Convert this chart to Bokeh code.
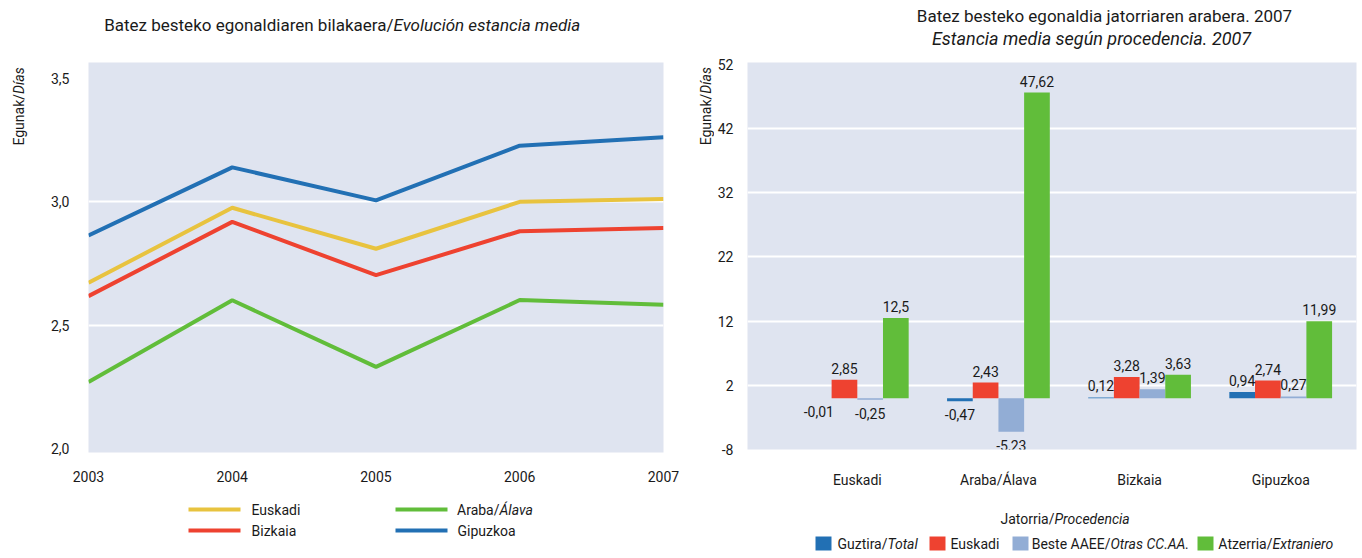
import math
from bokeh.plotting import figure
from bokeh.models import (Range1d, FixedTicker, Label, LabelSet, ColumnDataSource, BoxAnnotation)
from bokeh.layouts import row, column
from bokeh.embed import file_html
from bokeh.resources import INLINE
from bokeh.core.properties import value

# ---------------- data ----------------
years = [2003, 2004, 2005, 2006, 2007]
euskadi = [2.672, 2.976, 2.810, 3.000, 3.012]
bizkaia = [2.618, 2.919, 2.703, 2.881, 2.894]
araba = [2.270, 2.601, 2.331, 2.602, 2.583]
gipuzkoa = [2.864, 3.140, 3.006, 3.228, 3.262]

left_y_ticks = [2.0, 2.5, 3.0, 3.5]
left_y_labels = ["2,0", "2,5", "3,0", "3,5"]
year_labels = ["2003", "2004", "2005", "2006", "2007"]

categories = ["Euskadi", "Araba/Álava", "Bizkaia", "Gipuzkoa"]
guztira = [-0.01, -0.47, 0.12, 0.94]
euskadi_orig = [2.85, 2.43, 3.28, 2.74]
beste = [-0.25, -5.23, 1.39, 0.27]
atzerria = [12.5, 47.62, 3.63, 11.99]

right_y_ticks = [-8, 2, 12, 22, 32, 42, 52]
right_y_labels = ["-8", "2", "12", "22", "32", "42", "52"]

# ---------------- style ----------------
FONT = "Roboto"
BG = "#dfe4f0"
YELLOW = "#e8c33f"
RED = "#ee4230"
GREEN = "#61bd3a"
BLUE = "#2270b4"
LBLUE = "#92add5"
TXT = "#1a1a1a"


def blank(w, h):
    f = figure(width=w, height=h, x_range=Range1d(0, w), y_range=Range1d(0, h),
               output_backend="svg", toolbar_location=None, min_border=0,
               outline_line_color=None, x_axis_location=None, y_axis_location=None,
               background_fill_color="white", border_fill_color="white")
    f.xgrid.visible = False
    f.ygrid.visible = False
    return f


def lab(p, x, y, text, size="14px", style="normal", align="left", baseline="middle", angle=0):
    p.add_layout(Label(x=x, y=y, text=text, text_font=FONT, text_font_size=size,
                       text_font_style=style, text_align=align, text_baseline=baseline,
                       angle=angle, text_color=TXT))


def box(p, l, r, b, t, color):
    p.add_layout(BoxAnnotation(left=l, right=r, bottom=b, top=t,
                               fill_color=color, fill_alpha=1, line_color=None))


def style_axes(p):
    for ax in (p.xaxis[0], p.yaxis[0]):
        ax.axis_line_color = None
        ax.major_tick_line_color = None
        ax.minor_tick_line_color = None
        ax.major_label_text_font = FONT
        ax.major_label_text_font_size = "14px"
        ax.major_label_text_color = TXT
    p.xgrid.grid_line_color = None
    p.ygrid.grid_line_color = "white"
    p.ygrid.grid_line_width = 2


# ================= left block =================
t1 = blank(680, 56)
lab(t1, 393, 32, "Batez besteko egonaldiaren bilakaera/", size="17px", align="right")
lab(t1, 393, 32, "Evolución estancia media", size="17px", style="italic")

yt1 = blank(30, 434)
lab(yt1, 18, 399, "Egunak/", align="right", angle=math.pi / 2)
lab(yt1, 18, 399, "Días", style="italic", align="left", angle=math.pi / 2)

p1 = figure(width=650, height=434, output_backend="svg", toolbar_location=None,
            x_range=Range1d(2003, 2007), y_range=Range1d(1.984, 3.565),
            min_border_left=58, min_border_right=17, min_border_top=6, min_border_bottom=38,
            background_fill_color=BG, border_fill_color="white", outline_line_color=None)
style_axes(p1)
p1.xaxis.ticker = FixedTicker(ticks=years)
p1.xaxis.major_label_overrides = dict(zip(years, year_labels))
p1.xaxis.major_label_standoff = 12
p1.yaxis.ticker = FixedTicker(ticks=left_y_ticks)
p1.yaxis.major_label_overrides = dict(zip(left_y_ticks, left_y_labels))
p1.yaxis.major_label_standoff = 13
p1.ygrid.ticker = FixedTicker(ticks=[2.5, 3.0])

p1.line(years, araba, line_color=GREEN, line_width=4)
p1.line(years, bizkaia, line_color=RED, line_width=4)
p1.line(years, euskadi, line_color=YELLOW, line_width=4)
p1.line(years, gipuzkoa, line_color=BLUE, line_width=4)

l1 = blank(680, 66)
box(l1, 188, 240, 45, 49, YELLOW)
box(l1, 188, 240, 24, 28, RED)
box(l1, 395, 447, 45, 49, GREEN)
box(l1, 395, 447, 24, 28, BLUE)
lab(l1, 251, 47, "Euskadi")
lab(l1, 251, 26, "Bizkaia")
lab(l1, 499, 47, "Araba/", align="right")
lab(l1, 499, 47, "Álava", style="italic")
lab(l1, 457, 26, "Gipuzkoa")

left_block = column(t1, row(yt1, p1), l1)

# ================= right block =================
t2 = blank(680, 56)
lab(t2, 424, 41, "Batez besteko egonaldia jatorriaren arabera. 2007", size="17px", align="center")
lab(t2, 411, 18, "Estancia media según procedencia. 2007", size="18px", style="italic", align="center")

yt2 = blank(34, 434)
lab(yt2, 25, 399, "Egunak/", align="right", angle=math.pi / 2)
lab(yt2, 25, 399, "Días", style="italic", align="left", angle=math.pi / 2)

p2 = figure(width=646, height=434, output_backend="svg", toolbar_location=None,
            x_range=Range1d(-0.778, 3.537), y_range=Range1d(-8, 52.3),
            min_border_left=29, min_border_right=4, min_border_top=6, min_border_bottom=38,
            background_fill_color=BG, border_fill_color="white", outline_line_color=None)
style_axes(p2)
idx = list(range(len(categories)))
p2.xaxis.ticker = FixedTicker(ticks=idx)
p2.xaxis.major_label_overrides = dict(zip(idx, categories))
p2.xaxis.major_label_standoff = 16
p2.yaxis.ticker = FixedTicker(ticks=right_y_ticks)
p2.yaxis.major_label_overrides = dict(zip(right_y_ticks, right_y_labels))
p2.yaxis.major_label_standoff = 8
p2.ygrid.ticker = FixedTicker(ticks=[2, 12, 22, 32, 42])

series = [guztira, euskadi_orig, beste, atzerria]
colors = [BLUE, RED, LBLUE, GREEN]
offsets = [-0.273, -0.091, 0.091, 0.273]
bw = 0.182

pos = dict(x=[], y=[], t=[])
neg = dict(x=[], y=[], t=[])
for vals, col, off in zip(series, colors, offsets):
    xs = [i + off for i in idx]
    src = ColumnDataSource(dict(x=xs, top=vals))
    p2.vbar(x="x", top="top", bottom=0, width=bw, source=src, fill_color=col, line_color=None)
    for x, v in zip(xs, vals):
        d = pos if v >= 0 else neg
        d["x"].append(x)
        d["y"].append(v)
        d["t"].append(str(v).replace(".", ","))

p2.add_layout(LabelSet(x="x", y="y", text="t", source=ColumnDataSource(pos),
                       text_align="center", text_baseline="bottom", y_offset=6,
                       text_font=value(FONT), text_font_size="14px", text_color=TXT))
p2.add_layout(LabelSet(x="x", y="y", text="t", source=ColumnDataSource(neg),
                       text_align="center", text_baseline="top", y_offset=-8,
                       text_font=value(FONT), text_font_size="14px", text_color=TXT))

l2 = blank(680, 66)
lab(l2, 374, 38, "Jatorria/", align="right")
lab(l2, 374, 38, "Procedencia", style="italic")
LY = 13
box(l2, 135, 151, LY - 7, LY + 7, BLUE)
box(l2, 249, 265, LY - 7, LY + 7, RED)
box(l2, 332, 348, LY - 7, LY + 7, LBLUE)
box(l2, 517, 533, LY - 7, LY + 7, GREEN)
lab(l2, 207, LY, "Guztira/", align="right")
lab(l2, 207, LY, "Total", style="italic")
lab(l2, 270, LY, "Euskadi")
lab(l2, 430, LY, "Beste AAEE/", align="right")
lab(l2, 430, LY, "Otras CC.AA.", style="italic")
lab(l2, 592, LY, "Atzerria/", align="right")
lab(l2, 592, LY, "Extraniero", style="italic")

right_block = column(t2, row(yt2, p2), l2)

layout = row(left_block, right_block)
open("out.html", "w").write(file_html(layout, INLINE))
